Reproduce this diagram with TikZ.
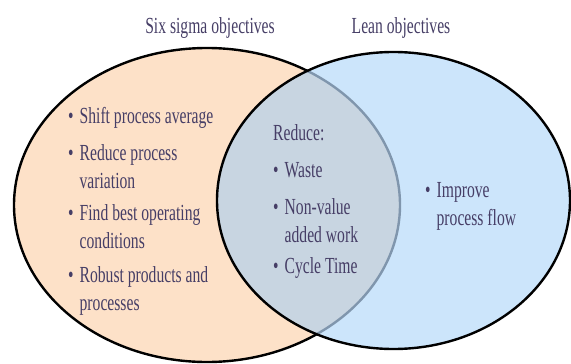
\documentclass[tikz,border=0pt]{standalone}
\usepackage{fontspec}
\setmainfont[FakeStretch=0.68]{Liberation Serif}
\definecolor{peach}{HTML}{FDE1C8}
\definecolor{leanblue}{HTML}{CCE5FB}
\definecolor{overlap}{HTML}{C8D5E1}
\definecolor{innerline}{HTML}{8096AD}
\definecolor{txt}{HTML}{463E66}
\tikzset{
  lbl/.style={anchor=base west, inner sep=0pt, text=txt, font=\fontsize{23}{28}\selectfont},
  title/.style={anchor=base, inner sep=0pt, text=txt, font=\fontsize{23}{28}\selectfont},
  outline/.style={line width=2.4pt}
}
\newcommand{\bitem}[2]{\begin{tabular}[t]{@{}l@{\hspace{6pt}}l@{}}\textbullet & #1\\ & #2\end{tabular}}
\newcommand{\bone}[1]{\begin{tabular}[t]{@{}l@{\hspace{6pt}}l@{}}\textbullet & #1\end{tabular}}
\begin{document}
\begin{tikzpicture}[x=1pt,y=-1pt]
\useasboundingbox (0,0) rectangle (571,364);
\coordinate (cl) at (207,205);
\coordinate (cr) at (393.5,200.5);
\fill[peach] (cl) ellipse [x radius=193, y radius=157];
\fill[leanblue] (cr) ellipse [x radius=176.5, y radius=148.5];
\begin{scope}
  \clip (cr) ellipse [x radius=176.5, y radius=148.5];
  \fill[overlap] (cl) ellipse [x radius=193, y radius=157];
  \draw[outline, innerline] (cl) ellipse [x radius=193, y radius=157];
\end{scope}
\begin{scope}[even odd rule]
  \clip (-10,-10) rectangle (590,380) (cr) ellipse [x radius=176.5, y radius=148.5];
  \draw[outline] (cl) ellipse [x radius=193, y radius=157];
\end{scope}
\draw[outline] (cr) ellipse [x radius=176.5, y radius=148.5];

\node[title] (t1) at (210,33) {Six sigma objectives};
\node[title] (t2) at (401,33) {Lean objectives};

\node[lbl] (a1) at (68,123) {\bone{Shift process average}};
\node[lbl] (a2) at (68,160) {\bitem{Reduce process}{variation}};
\node[lbl] (a3) at (68,220) {\bitem{Find best operating}{conditions}};
\node[lbl] (a4) at (68,282) {\bitem{Robust products and}{processes}};

\node[lbl] (m0) at (273,140) {Reduce:};
\node[lbl] (m1) at (273,177) {\bone{Waste}};
\node[lbl] (m2) at (273,214) {\bitem{Non-value}{added work}};
\node[lbl] (m3) at (273,273) {\bone{Cycle Time}};

\node[lbl] (r1) at (425,197) {\bitem{Improve}{process flow}};
\end{tikzpicture}
\end{document}
